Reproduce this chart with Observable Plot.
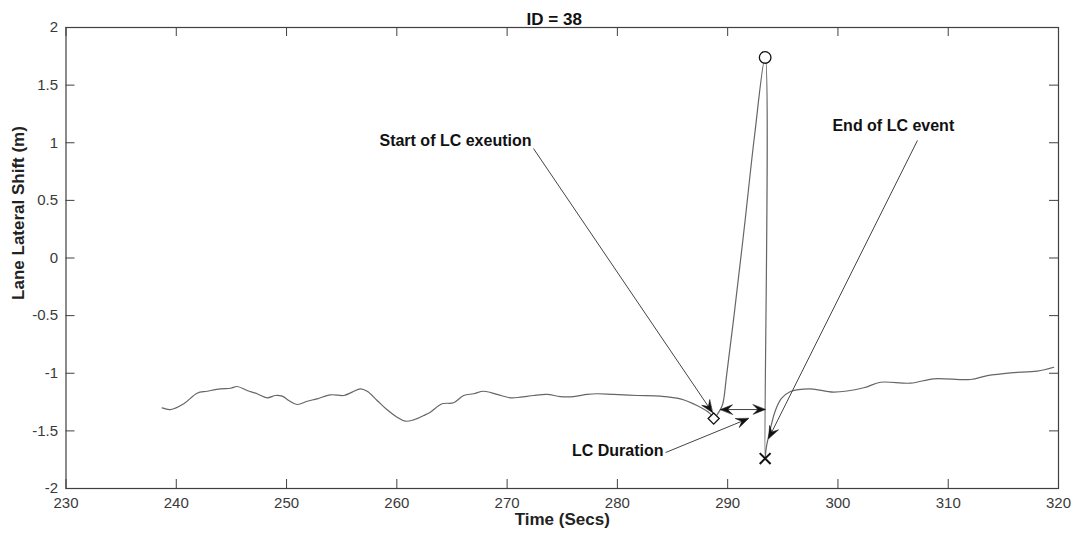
<!DOCTYPE html>
<html><head><meta charset="utf-8">
<script src="https://cdn.jsdelivr.net/npm/d3@7"></script>
<script src="https://cdn.jsdelivr.net/npm/@observablehq/plot@0.6"></script>
<style>body{margin:0;background:#fff}</style>
</head><body><div id="chart"></div>
<script>
// ---- data ----
const time = [238.73,239.48,240.68,241.89,242.80,244.00,244.92,245.52,246.43,247.33,248.24,248.99,249.60,250.20,250.96,251.87,252.77,253.98,255.19,255.95,256.70,257.31,258.21,259.12,260.02,260.77,261.53,262.43,263.04,264.10,265.15,266.06,266.97,267.87,269.08,270.29,271.20,272.40,273.62,274.83,276.03,277.25,278.15,279.65,281.78,283.89,285.71,287.22,288.43,288.73,
  289.17,289.54,289.90,290.63,291.53,292.44,293.40,293.40,293.49,293.88,294.33,294.88,295.70,297.51,299.62,302.34,303.86,306.59,308.69,312.02,313.55,315.66,318.07,319.57];
const shift = [-1.300,-1.315,-1.265,-1.173,-1.156,-1.135,-1.130,-1.115,-1.150,-1.178,-1.213,-1.193,-1.199,-1.236,-1.271,-1.243,-1.222,-1.187,-1.193,-1.164,-1.135,-1.156,-1.236,-1.317,-1.381,-1.416,-1.404,-1.367,-1.338,-1.265,-1.256,-1.193,-1.178,-1.156,-1.184,-1.213,-1.208,-1.193,-1.184,-1.202,-1.202,-1.184,-1.178,-1.184,-1.193,-1.199,-1.222,-1.280,-1.352,-1.393,
  -1.341,-1.271,-1.020,-0.456,0.282,1.063,1.740,-1.740,-1.653,-1.479,-1.323,-1.219,-1.158,-1.135,-1.164,-1.126,-1.078,-1.086,-1.048,-1.054,-1.020,-0.996,-0.982,-0.948];
const xTicks = [230,240,250,260,270,280,290,300,310,320];
const yTicks = [-2,-1.5,-1,-0.5,0,0.5,1,1.5,2];
const eventTime = [288.73, 293.40, 293.40];
const eventShift = [-1.393, 1.740, -1.740];
const eventSymbol = ["diamond2", "circle", "times"];
const arrowFromX = [272.39, 307.21, 284.37, 289.35];
const arrowFromY = [0.950, 1.020, -1.688, -1.315];
const arrowToX = [288.62, 293.71, 291.89, 293.40];
const arrowToY = [-1.341, -1.566, -1.393, -1.315];
const arrowDouble = [false, false, false, true];
const noteText = ["Start of LC exeution", "End of LC event", "LC Duration"];
const noteX = [272.21, 299.50, 284.18];
const noteY = [1.020, 1.150, -1.670];
const noteAnchor = ["end", "start", "end"];
const titleText = "ID = 38";
const xLabel = "Time (Secs)";
const yLabel = "Lane Lateral Shift (m)";

// ---- layout ----
const W = 1077, H = 537, ML = 65.5, MR = 19, MT = 27, MB = 49;
const X0 = 230, X1 = 320, Y0 = -2, Y1 = 2;
const kx = (W - ML - MR) / (X1 - X0), ky = (H - MT - MB) / (Y1 - Y0);
const TL = 9; // tick length px
const FONT = "'Liberation Sans', Arial, Helvetica, sans-serif";

const series = time.map((t, i) => ({t, v: shift[i]}));
const events = eventTime.map((t, i) => ({t, v: eventShift[i], s: eventSymbol[i]}));
const arrows = arrowFromX.map((x1, i) => ({x1, y1: arrowFromY[i], x2: arrowToX[i], y2: arrowToY[i], dbl: arrowDouble[i]}));
const notes = noteText.map((text, i) => ({text, x: noteX[i], y: noteY[i], a: noteAnchor[i]}));

function headPoly(xt, yt, xf, yf, id) {
  const dxp = (xt - xf) * kx, dyp = -(yt - yf) * ky;
  const len = Math.hypot(dxp, dyp), ux = dxp / len, uy = dyp / len, nx = -uy, ny = ux;
  const L = 12, Wd = 4.8, N = 0.6 * L;
  const pts = [[0, 0], [-L*ux + Wd*nx, -L*uy + Wd*ny], [-N*ux, -N*uy], [-L*ux - Wd*nx, -L*uy - Wd*ny]];
  return pts.map(([px, py]) => ({id, x: xt + px / kx, y: yt - py / ky}));
}
const heads = [];
arrows.forEach((a, i) => {
  heads.push(...headPoly(a.x2, a.y2, a.x1, a.y1, "e" + i));
  if (a.dbl) heads.push(...headPoly(a.x1, a.y1, a.x2, a.y2, "s" + i));
});

const chart = Plot.plot({
  width: W, height: H,
  marginLeft: ML, marginRight: MR, marginTop: MT, marginBottom: MB,
  style: {fontFamily: FONT, fontSize: "15px", color: "#3a3a3a", background: "#fff"},
  x: {domain: [X0, X1], ticks: xTicks, tickSize: 0, tickPadding: 9, tickFormat: d => String(d), label: null},
  y: {domain: [Y0, Y1], ticks: yTicks, tickSize: 0, tickPadding: 8, tickFormat: d => String(d), label: null},
  marks: [
    Plot.ruleX(xTicks, {x: d => d, y1: Y0, y2: Y0 + TL / ky, stroke: "#404040"}),
    Plot.ruleX(xTicks, {x: d => d, y1: Y1, y2: Y1 - TL / ky, stroke: "#404040"}),
    Plot.ruleY(yTicks, {y: d => d, x1: X0, x2: X0 + TL / kx, stroke: "#404040"}),
    Plot.ruleY(yTicks, {y: d => d, x1: X1, x2: X1 - TL / kx, stroke: "#404040"}),
    Plot.frame({stroke: "#404040", strokeWidth: 1.2}),
    Plot.line(series, {x: "t", y: "v", stroke: "#666", strokeWidth: 1.2, curve: "catmull-rom"}),
    Plot.link(arrows, {x1: "x1", y1: "y1", x2: "x2", y2: "y2", stroke: "#444", strokeWidth: 1}),
    Plot.line(heads, {x: "x", y: "y", z: "id", fill: "#111", stroke: "#111", strokeWidth: 0.6, curve: "linear-closed"}),
    Plot.dot(events.filter(d => d.s === "diamond2"), {x: "t", y: "v", symbol: "diamond2", r: 5, stroke: "#111", fill: "#fff", strokeWidth: 1.3}),
    Plot.dot(events.filter(d => d.s === "circle"), {x: "t", y: "v", symbol: "circle", r: 5.8, stroke: "#111", fill: "#fff", strokeWidth: 1.3}),
    Plot.dot(events.filter(d => d.s === "times"), {x: "t", y: "v", symbol: "times", r: 5, stroke: "#111", strokeWidth: 2}),
    Plot.text(notes.filter(d => d.a === "end"), {x: "x", y: "y", text: "text", textAnchor: "end", fontWeight: "bold", fontSize: 16, fill: "#111"}),
    Plot.text(notes.filter(d => d.a === "start"), {x: "x", y: "y", text: "text", textAnchor: "start", fontWeight: "bold", fontSize: 16, fill: "#111"}),
    Plot.text([titleText], {frameAnchor: "top", dy: -15, dx: -8, fontWeight: "bold", fontSize: 17, fill: "#111"}),
    Plot.text([xLabel], {frameAnchor: "bottom", dy: 36, fontWeight: "bold", fontSize: 17, fill: "#222"}),
    Plot.text([yLabel], {frameAnchor: "left", textAnchor: "middle", rotate: -90, dx: -47, dy: -45, fontWeight: "bold", fontSize: 17, fill: "#222"})
  ]
});
document.getElementById("chart").appendChild(chart);
</script>
</body></html>
